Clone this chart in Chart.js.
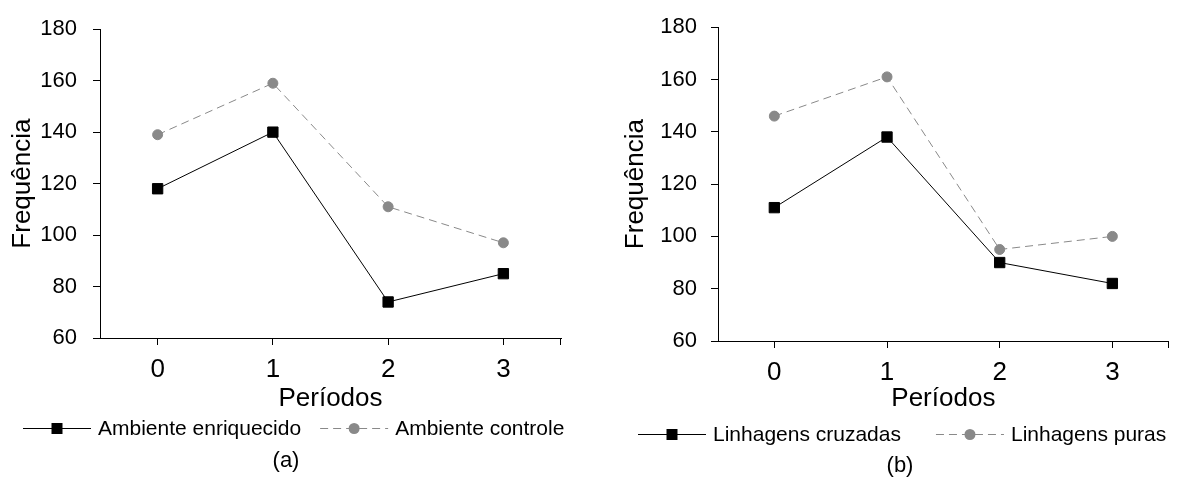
<!DOCTYPE html>
<html>
<head>
<meta charset="utf-8">
<script src="https://cdn.jsdelivr.net/npm/chart.js@4.4.1/dist/chart.umd.min.js"></script>
<style>
    html, body { margin: 0; padding: 0; background: #fff; }
    #wrap { position: relative; width: 1177px; height: 482px; }
    .box { position: absolute; top: 0; }
    #boxA { left: 0; }
    #boxB { left: 590px; }
</style>
</head>
<body>
<div id="wrap">
    <div class="box" id="boxA"><canvas id="chartA" width="590" height="482"></canvas></div>
    <div class="box" id="boxB"><canvas id="chartB" width="587" height="482"></canvas></div>
</div>
<script>
// Data
const periods = ['0', '1', '2', '3'];
const yMin = 60;
const yMax = 180;
const yStep = 20;

// (a) ambiente
const enriquecido = [118, 140, 74, 85];
const controle = [139, 159, 111, 97];

// (b) linhagens
const cruzadas = [111, 138, 90, 82];
const puras = [146, 161, 95, 100];

const FONT = '"Liberation Sans", Arial, sans-serif';
const GREY = '#898989';

// Draws the line+marker legend, the caption and the tick at the end of the x axis
const lineLegend = {
    id: 'lineLegend',
    afterDraw(chart, args, opts) {
        const ctx = chart.ctx;
        const area = chart.chartArea;
        ctx.save();

        ctx.strokeStyle = '#000';
        ctx.lineWidth = 1;
        ctx.beginPath();
        ctx.moveTo(Math.round(area.right) - 0.5, area.bottom);
        ctx.lineTo(Math.round(area.right) - 0.5, area.bottom + 7);
        ctx.stroke();

        ctx.font = '21px ' + FONT;
        ctx.textBaseline = 'middle';
        let x = opts.x;
        const y = opts.y;
        chart.data.datasets.forEach(ds => {
            ctx.save();
            ctx.strokeStyle = ds.borderColor;
            ctx.lineWidth = ds.borderWidth;
            ctx.setLineDash(ds.borderDash || []);
            ctx.beginPath();
            ctx.moveTo(x, y + 0.5);
            ctx.lineTo(x + opts.iconWidth, y + 0.5);
            ctx.stroke();
            ctx.setLineDash([]);

            const cx = x + opts.iconWidth / 2;
            ctx.fillStyle = ds.pointBackgroundColor;
            ctx.beginPath();
            if (ds.pointStyle === 'rect') {
                ctx.rect(cx - 5.5, y - 5, 11, 11);
            } else {
                ctx.arc(cx, y + 0.5, 5.5, 0, Math.PI * 2);
            }
            ctx.fill();
            ctx.restore();

            x += opts.iconWidth + opts.textGap;
            ctx.fillStyle = '#000';
            ctx.fillText(ds.label, x, y + 1);
            x += ctx.measureText(ds.label).width + opts.itemGap;
        });

        ctx.font = '22px ' + FONT;
        ctx.textAlign = 'center';
        ctx.fillStyle = '#000';
        ctx.fillText(opts.caption, opts.captionX, opts.captionY);
        ctx.restore();
    }
};

function makeDatasets(labels, solid, dashed) {
    return [
        {
            label: labels[0],
            data: solid,
            borderColor: '#000',
            borderWidth: 1,
            pointStyle: 'rect',
            pointRadius: 7.3,
            pointBorderWidth: 1,
            pointBackgroundColor: '#000',
            pointBorderColor: '#000',
            tension: 0
        },
        {
            label: labels[1],
            data: dashed,
            borderColor: GREY,
            borderWidth: 1,
            borderDash: [8, 5],
            pointStyle: 'circle',
            pointRadius: 5,
            pointBorderWidth: 1,
            pointBackgroundColor: GREY,
            pointBorderColor: GREY,
            tension: 0
        }
    ];
}

function makeChart(id, datasets, cfg) {
    const ctx = document.getElementById(id).getContext('2d');
    return new Chart(ctx, {
        type: 'line',
        data: { labels: periods, datasets: datasets },
        plugins: [lineLegend],
        options: {
            responsive: false,
            animation: false,
            layout: { padding: cfg.padding },
            plugins: {
                legend: { display: false },
                tooltip: { enabled: false },
                lineLegend: cfg.legend
            },
            scales: {
                x: {
                    offset: true,
                    afterFit: scale => { scale.height = cfg.xHeight; },
                    grid: {
                        offset: false,
                        drawOnChartArea: false,
                        drawTicks: true,
                        tickLength: 7,
                        color: '#000'
                    },
                    border: { color: '#000', width: 1 },
                    ticks: {
                        color: '#000',
                        padding: 9,
                        font: { family: FONT, size: 26 }
                    },
                    title: {
                        display: true,
                        text: 'Períodos',
                        color: '#000',
                        padding: { top: 4, bottom: 4 },
                        font: { family: FONT, size: 26 }
                    }
                },
                y: {
                    min: yMin,
                    max: yMax,
                    afterFit: scale => { scale.width = cfg.yWidth; },
                    grid: {
                        drawOnChartArea: false,
                        drawTicks: true,
                        tickLength: 7,
                        color: '#000'
                    },
                    border: { color: '#000', width: 1 },
                    ticks: {
                        stepSize: yStep,
                        color: '#000',
                        padding: cfg.yTickPad,
                        font: { family: FONT, size: 22 }
                    },
                    title: {
                        display: true,
                        text: 'Frequência',
                        color: '#000',
                        padding: { top: 4, bottom: 4 },
                        font: { family: FONT, size: 26 }
                    }
                }
            }
        }
    });
}

makeChart('chartA',
    makeDatasets(['Ambiente enriquecido', 'Ambiente controle'], enriquecido, controle),
    {
        padding: { left: 3, right: 29, top: 22, bottom: 64 },
        xHeight: 80,
        yWidth: 97,
        yTickPad: 16,
        legend: { x: 23, y: 428, iconWidth: 68, textGap: 7, itemGap: 19, caption: '(a)', captionX: 286, captionY: 461 }
    });

makeChart('chartB',
    makeDatasets(['Linhagens cruzadas', 'Linhagens puras'], cruzadas, puras),
    {
        padding: { left: 26, right: 5, top: 21, bottom: 64 },
        xHeight: 77,
        yWidth: 102,
        yTickPad: 14,
        legend: { x: 48, y: 434, iconWidth: 68, textGap: 7, itemGap: 35, caption: '(b)', captionX: 310, captionY: 466 }
    });
</script>
</body>
</html>
